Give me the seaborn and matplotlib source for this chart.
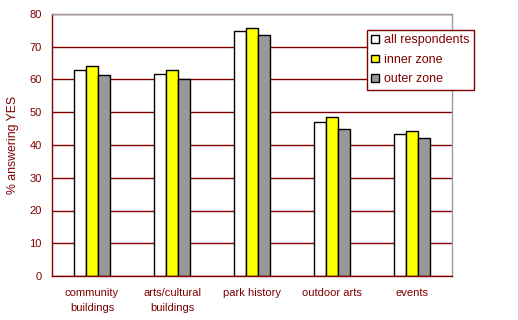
import matplotlib
matplotlib.use("Agg")
import matplotlib.pyplot as plt
import seaborn as sns
import pandas as pd
import numpy as np

categories = ["community\nbuildings", "arts/cultural\nbuildings", "park history", "outdoor arts", "events"]
series = ["all respondents", "inner zone", "outer zone"]
all_resp = [62.9, 61.7, 74.8, 47.0, 43.4]
inner = [64.1, 62.9, 75.7, 48.5, 44.3]
outer = [61.4, 60.1, 73.6, 44.9, 42.1]
yticks = [0, 10, 20, 30, 40, 50, 60, 70, 80]

rows = []
for name, vals in zip(series, [all_resp, inner, outer]):
    for c, v in zip(categories, vals):
        rows.append({"category": c, "series": name, "value": v})
df = pd.DataFrame(rows)

sns.set_theme(style="white")
plt.rcParams['font.family'] = ['Liberation Sans', 'DejaVu Sans']
DR = '#800000'

fig = plt.figure(figsize=(5.18, 3.2), dpi=100)
ax = fig.add_axes([52/518, 44/320, 400/518, 262/320])

sns.barplot(data=df, x="category", y="value", hue="series", order=categories,
            hue_order=series, palette=["#ffffff", "#ffff00", "#999999"],
            width=0.45, edgecolor="black", linewidth=1.0, saturation=1, ax=ax)

ax.set_ylim(0, 80)
ax.set_xlim(-0.5, len(categories) - 0.5)
ax.set_yticks(yticks)
ax.set_yticklabels([str(t) for t in yticks], color=DR, fontsize=8)
ax.yaxis.grid(True, color=DR, linewidth=1.0)
ax.set_axisbelow(True)
ax.tick_params(axis='y', direction='inout', length=7, width=1, color=DR, pad=4)
ax.set_xticks(range(len(categories)))
ax.set_xticklabels(categories, color=DR, fontsize=8, linespacing=1.6)
ax.tick_params(axis='x', which='major', length=0, pad=9)
ax.set_xticks(np.arange(-0.5, len(categories)), minor=True)
ax.tick_params(axis='x', which='minor', direction='out', length=3, width=1, color=DR)
ax.set_xlabel("")
ax.set_ylabel("% answering YES", color=DR, fontsize=8.8, labelpad=7)

for s in ['left', 'bottom']:
    ax.spines[s].set_color(DR)
    ax.spines[s].set_linewidth(1)
for s in ['top', 'right']:
    ax.spines[s].set_color('#999999')
    ax.spines[s].set_linewidth(1)

leg = ax.legend(loc='upper left', bbox_to_anchor=(367/518, 1 - 30/320),
                bbox_transform=fig.transFigure, borderaxespad=0, fontsize=9,
                frameon=True, fancybox=False, edgecolor=DR, framealpha=1,
                handlelength=0.6, handleheight=0.6, handletextpad=0.4,
                labelspacing=0.6, borderpad=0.35, title=None)
leg.get_frame().set_linewidth(1)
for t in leg.get_texts():
    t.set_color(DR)

fig.savefig("out.png", dpi=100)
